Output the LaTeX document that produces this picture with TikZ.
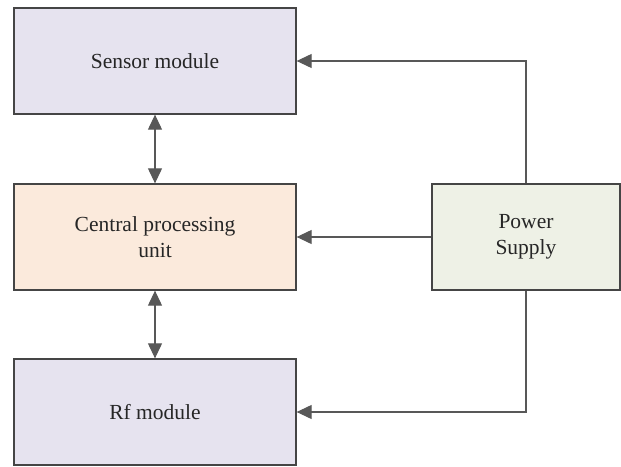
\documentclass[tikz,border=0pt]{standalone}
\usepackage{fontspec}
\setmainfont{Liberation Serif}
\usepackage{tikz}
\usetikzlibrary{arrows.meta}

\definecolor{modfill}{HTML}{E6E3EF}
\definecolor{cpufill}{HTML}{FBEADC}
\definecolor{pwrfill}{HTML}{EEF1E6}
\definecolor{edge}{HTML}{454545}

\tikzset{
    block/.style={draw=edge, line width=1.3pt, minimum width=282pt, minimum height=106pt,
        inner sep=0pt, align=center, font=\fontsize{21.5}{26}\selectfont, text=black!85},
    link/.style={draw=edge!90, line width=1.1pt}
}

\begin{document}
\begin{tikzpicture}[x=1pt,y=-1pt,line join=miter,>={Triangle[length=15pt,width=14pt]}]
        \useasboundingbox (0, 0) rectangle (621, 466);

        \coordinate (S) at (155, 61);
        \coordinate (C) at (155, 237);
        \coordinate (R) at (155, 412);
        \coordinate (P) at (526, 237);

        \node[block, fill=modfill] (sensor) at (S) {Sensor module};
        \node[block, fill=cpufill] (cpu) at (C) {Central processing\\unit};
        \node[block, fill=modfill] (rf) at (R) {Rf module};
        \node[block, fill=pwrfill, minimum width=188pt] (power) at (P) {Power\\Supply};

        \draw[link, <->] (sensor) -- (cpu);
        \draw[link, <->] (cpu) -- (rf);
        \draw[link, ->] (power.north) |- (sensor.east);
        \draw[link, ->] (power.west) -- (cpu.east);
        \draw[link, ->] (power.south) |- (rf.east);
    \end{tikzpicture}
\end{document}
